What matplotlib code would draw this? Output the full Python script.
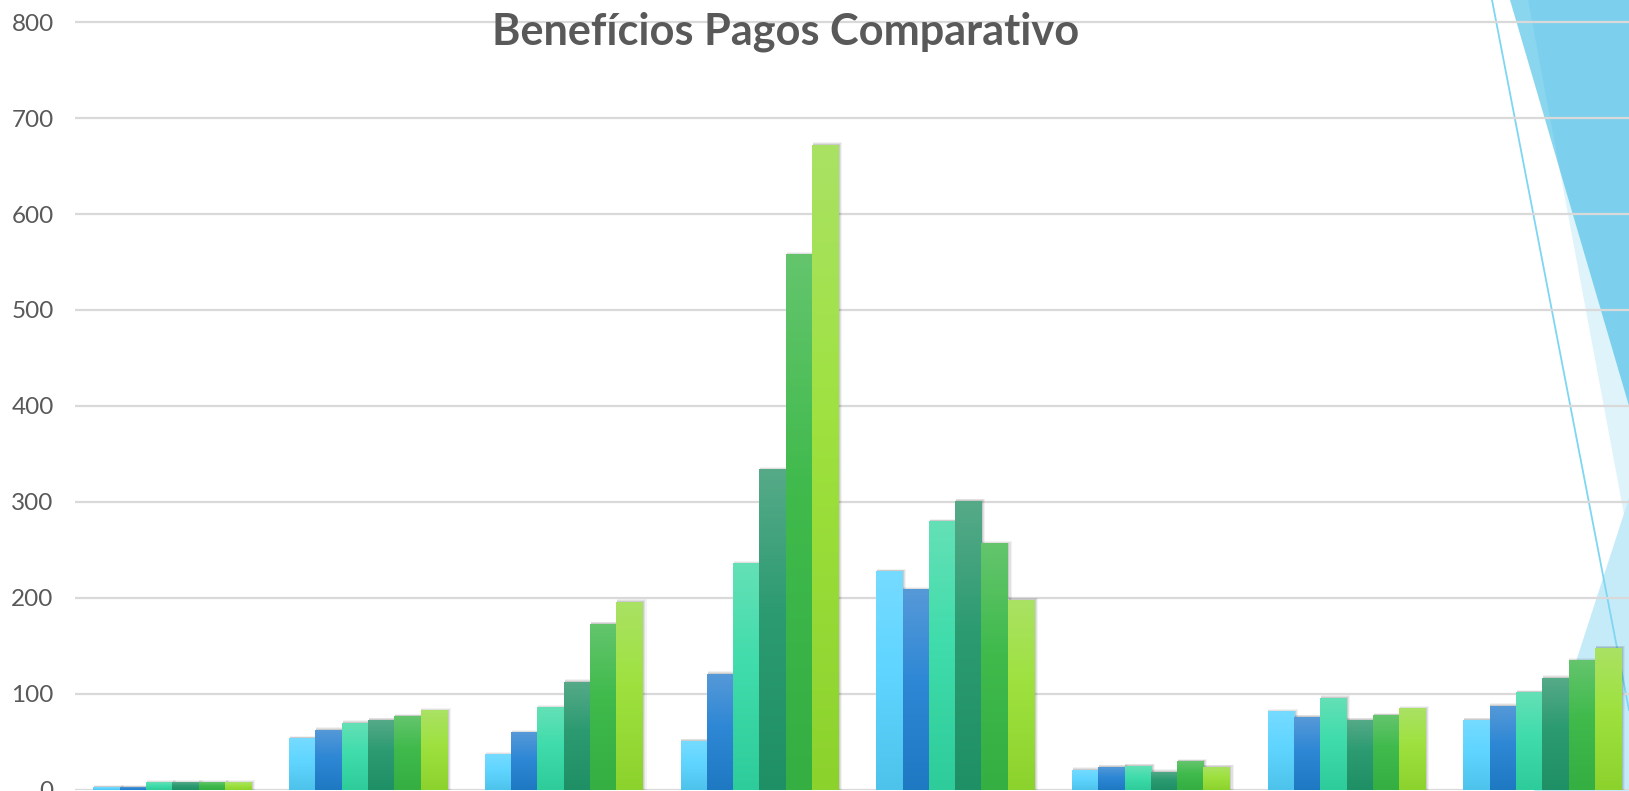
import numpy as np
import matplotlib
matplotlib.use("Agg")
import matplotlib.pyplot as plt
from matplotlib.colors import LinearSegmentedColormap
from matplotlib.patches import Polygon, Rectangle
from matplotlib.lines import Line2D

# ---------------- data ----------------
categories = ["Grupo 1", "Grupo 2", "Grupo 3", "Grupo 4",
              "Grupo 5", "Grupo 6", "Grupo 7", "Grupo 8"]
series_names = ["Série 1", "Série 2", "Série 3", "Série 4", "Série 5", "Série 6"]
serie_1 = [3, 54, 37, 51, 228, 21, 82, 73]
serie_2 = [3, 63, 60, 121, 209, 24, 76, 88]
serie_3 = [8, 70, 86, 236, 280, 25, 96, 102]
serie_4 = [8, 73, 113, 334, 301, 19, 73, 117]
serie_5 = [8, 77, 173, 558, 257, 30, 78, 135]
serie_6 = [8, 83, 196, 672, 198, 24, 85, 148]
series_values = [serie_1, serie_2, serie_3, serie_4, serie_5, serie_6]
y_ticks = [0, 100, 200, 300, 400, 500, 600, 700, 800]
title_text = "Benefícios Pagos Comparativo"

# gradient stops (top, middle, bottom) per series
grad_colors = [
    ("#76dbff", "#5fd5ff", "#4dc3ec"),
    ("#5699d8", "#2f88d5", "#1e78c2"),
    ("#64e0b6", "#40dcab", "#2ecc9a"),
    ("#56aa88", "#2c9b72", "#1f8f65"),
    ("#64c56d", "#3fba4b", "#35ae42"),
    ("#aae264", "#9ee13e", "#8cd22d"),
]

W, H = 1629, 791
DPI = 100
fig = plt.figure(figsize=(W / DPI, H / DPI), dpi=DPI)
fig.patch.set_facecolor("white")

def fx(px):
    return px / W

def fy(py):
    return 1 - py / H

# ---------------- background decorations (slide theme) ----------------
light_tri = Polygon([(fx(1528), fy(0)), (fx(1629), fy(0)), (fx(1629), fy(541))],
                    closed=True, transform=fig.transFigure, facecolor="#dff3fa",
                    edgecolor="none", zorder=-5)
dark_tri = Polygon([(fx(1510), fy(0)), (fx(1629), fy(0)), (fx(1629), fy(406))],
                   closed=True, transform=fig.transFigure, facecolor="#30b6e4",
                   alpha=0.56, edgecolor="none", zorder=-4)
bottom_tri = Polygon([(fx(1629), fy(498)), (fx(1534), fy(791)), (fx(1629), fy(791))],
                     closed=True, transform=fig.transFigure, facecolor="#c6ebf8",
                     edgecolor="none", zorder=-5)
for p in (light_tri, dark_tri, bottom_tri):
    fig.patches.append(p)
deco_line = Line2D([fx(1492), fx(1629)], [fy(0), fy(710)], transform=fig.transFigure,
                   color="#7fd6f2", linewidth=1.3, zorder=-3)
fig.lines.append(deco_line)

# ---------------- axes ----------------
ax_left_px = 74.5
slot_px = 195.7
zero_px = 790.0
px_per_unit = 0.96
ax = fig.add_axes([fx(ax_left_px), 1 - zero_px / H, 1 - fx(ax_left_px), zero_px / H])
ax.set_facecolor("none")
x_max = (W - ax_left_px) / slot_px - 0.5
y_max = zero_px / px_per_unit

n_series = len(series_values)
bar_w = 0.1344
x = np.arange(len(categories))

for s, vals in enumerate(series_values):
    offs = (s - (n_series - 1) / 2) * bar_w
    top, mid, bot = grad_colors[s]
    cmap = LinearSegmentedColormap.from_list(f"g{s}", [(0, bot), (0.55, mid), (1, top)])
    bars = ax.bar(x + offs, vals, width=bar_w, color=mid, edgecolor="none",
                  zorder=3, label=series_names[s])
    for b in bars:
        x0, w, h = b.get_x(), b.get_width(), b.get_height()
        # soft shadow
        for k, a in ((1.0, 0.05), (0.65, 0.07), (0.3, 0.09)):
            sh = Rectangle((x0 + w * 0.03, 0), w * (1 + 0.12 * k), h + 2.5 * k,
                           facecolor="#000000", alpha=a, edgecolor="none", zorder=2)
            ax.add_patch(sh)
        grad = np.linspace(0, 1, 256).reshape(-1, 1)
        im = ax.imshow(grad, extent=[x0, x0 + w, 0, h], origin="lower",
                       aspect="auto", cmap=cmap, zorder=4, interpolation="bicubic")
        im.set_clip_path(b)

ax.set_xlim(-0.5, x_max)
ax.set_ylim(0, y_max)
ax.set_yticks(y_ticks)
ax.set_xticks([])
ax.yaxis.grid(True, color="#d9d9d9", linewidth=1.6, zorder=0)
ax.set_axisbelow(True)
for sp in ax.spines.values():
    sp.set_visible(False)
ax.tick_params(axis="y", length=0, pad=15, labelsize=17.5, labelcolor="#595959")
for lab in ax.get_yticklabels():
    lab.set_fontfamily("Lato")

# ---------------- title (fit to measured width) ----------------
t = fig.text(fx(786), fy(44), title_text, ha="center", va="baseline",
             fontsize=30, fontweight="bold", color="#595959", family="Lato", zorder=10)
fig.canvas.draw()
bb = t.get_window_extent(renderer=fig.canvas.get_renderer())
t.set_fontsize(30 * 586 / bb.width)

fig.savefig("out.png", dpi=DPI)
